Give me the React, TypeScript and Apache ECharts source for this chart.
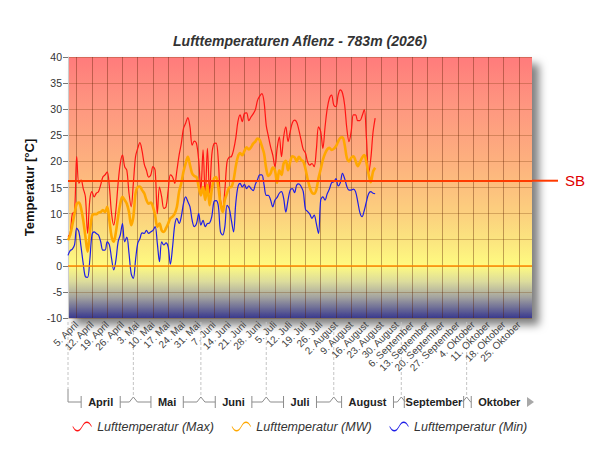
import React, { useEffect, useRef } from "react";
import * as echarts from "echarts";

const TITLE = "Lufttemperaturen Aflenz - 783m (2026)";
const Y_NAME = "Temperatur [°C]";
const MONTHS = ["April", "Mai", "Juni", "Juli", "August", "September", "Oktober"];
const MONTH_DAYS = [30, 31, 30, 31, 31, 30, 31];
const FIRST_SUNDAY_INDEX = 4; // 5. April
const SERIES_NAMES = ["Lufttemperatur (Max)", "Lufttemperatur (MW)", "Lufttemperatur (Min)"];
const SERIES_COLORS = ["#ff1414", "#ffa800", "#1e1ee6"];
const SB_VALUE = 16.3;
const SB_LABEL = "SB";

// daily values from 1. April
const maxTemp = [
  5.6, 6.2, 10.0, 10.3, 20.9, 15.8, 16.4, 14.8, 13.2, 6.2,
  12.6, 14.2, 13.2, 13.9, 14.2, 15.5, 17.0, 17.4, 18.0, 15.1,
  10.0, 7.8, 10.7, 15.8, 19.6, 21.2, 19.0, 18.3, 13.9, 11.3,
  15.8, 20.9, 22.5, 23.6, 22.0, 19.5, 18.3, 17.0, 17.4, 19.0,
  18.3, 10.0, 15.1, 13.2, 11.0, 11.3, 14.5, 17.4, 17.0, 15.8,
  18.3, 21.2, 23.4, 26.3, 27.3, 28.4, 26.6, 23.1, 23.9, 23.4,
  20.2, 14.5, 22.2, 13.2, 22.5, 13.9, 21.2, 23.4, 23.5, 20.2,
  12.6, 11.0, 14.5, 19.9, 20.8, 20.9, 22.2, 24.4, 27.6, 28.9,
  27.6, 29.2, 29.3, 27.8, 28.5, 29.1, 29.9, 31.7, 32.5, 33.0,
  31.4, 26.9, 24.8, 22.8, 21.2, 19.0, 22.5, 24.7, 20.9, 24.7,
  26.6, 23.8, 25.7, 27.4, 27.9, 27.5, 26.0, 24.1, 22.3, 21.6,
  19.9, 19.3, 19.6, 19.0, 22.2, 26.6, 25.7, 22.5, 26.6, 30.1,
  32.1, 32.7, 30.8, 30.5, 32.7, 33.7, 33.1, 30.8, 26.3, 23.8,
  25.7, 28.9, 28.9, 27.8, 27.8, 28.7, 29.9, 24.5, 17.8, 20.5,
  25.5, 28.3,
];
const meanTemp = [
  4.9, 5.9, 7.8, 10.0, 11.9, 12.1, 11.0, 8.7, 5.6, 2.7,
  6.2, 9.5, 9.9, 9.9, 10.2, 10.3, 10.7, 10.3, 11.3, 8.7,
  5.6, 4.6, 6.5, 9.4, 11.9, 13.2, 12.6, 11.9, 10.3, 7.8,
  9.4, 13.9, 15.1, 15.2, 14.5, 13.9, 12.6, 11.9, 12.1, 11.3,
  9.7, 7.5, 8.1, 6.8, 6.5, 7.2, 8.1, 9.1, 9.4, 10.0,
  11.3, 14.2, 15.8, 18.0, 19.6, 20.9, 19.3, 17.7, 17.2, 17.0,
  15.1, 13.5, 15.1, 12.6, 15.5, 11.6, 14.5, 16.7, 17.0, 15.1,
  11.9, 10.3, 12.6, 13.9, 15.0, 15.1, 16.4, 19.0, 20.9, 21.6,
  21.2, 22.0, 22.7, 22.3, 22.7, 23.4, 23.8, 24.4, 24.1, 22.9,
  21.5, 18.6, 17.2, 17.7, 18.8, 18.3, 15.9, 18.3, 17.4, 19.6,
  20.1, 18.3, 19.9, 21.0, 20.8, 20.0, 20.9, 20.3, 20.0, 18.6,
  16.6, 15.0, 14.0, 13.8, 14.6, 16.8, 18.5, 20.3, 21.5, 22.3,
  22.6, 22.2, 22.4, 22.9, 23.8, 24.5, 24.6, 23.2, 20.7, 20.0,
  20.7, 21.0, 20.1, 19.1, 19.8, 20.7, 21.2, 19.8, 17.5, 16.0,
  18.0, 18.8,
];
const minTemp = [
  2.0, 2.9, 3.2, 4.0, 7.2, 6.5, 3.6, 0.4, -2.1, -2.2,
  1.1, 5.9, 6.5, 6.2, 5.9, 4.6, 3.0, 3.0, 4.6, 4.0,
  1.4, -0.8, 1.1, 4.6, 5.9, 8.1, 4.6, 5.5, 2.4, -1.5,
  -2.4, 1.1, 4.3, 5.2, 6.3, 6.2, 6.8, 6.2, 6.5, 6.8,
  7.5, 4.3, 0.8, 4.6, 4.0, 4.4, 3.6, 0.3, 3.6, 7.8,
  9.1, 8.1, 9.4, 11.9, 13.2, 12.3, 11.3, 8.7, 7.5, 8.1,
  10.0, 7.8, 8.7, 7.5, 8.1, 8.2, 9.4, 12.3, 12.5, 11.5,
  6.5, 5.9, 7.5, 11.6, 11.0, 8.7, 6.5, 11.9, 15.1, 15.8,
  15.1, 15.6, 14.8, 15.3, 14.8, 14.4, 15.6, 16.5, 17.4, 17.4,
  15.5, 13.5, 13.5, 12.6, 11.3, 12.6, 13.1, 13.9, 14.2, 12.9,
  10.3, 12.6, 14.5, 14.8, 14.0, 15.5, 15.7, 15.2, 14.2, 10.8,
  10.4, 9.9, 9.1, 9.7, 8.1, 6.2, 12.6, 13.2, 12.6, 13.8,
  14.7, 15.9, 16.1, 16.7, 15.3, 15.9, 17.7, 16.7, 15.2, 14.5,
  14.5, 14.7, 14.2, 12.3, 10.2, 9.4, 10.6, 12.3, 13.8, 14.2,
  13.9, 13.8,
];

const categories: string[] = [];
const monthStart: number[] = [];
MONTHS.forEach((m, k) => {
  monthStart.push(categories.length);
  for (let d = 1; d <= MONTH_DAYS[k]; d++) categories.push(`${d}. ${m}`);
});

const FONT = "'Liberation Sans', Arial, sans-serif";
const WAVE =
  "path://M0,6 C3,12 7,12 10,6 C13,0 17,0 20,6 L20,7.6 C17,1.6 13,1.6 10,7.6 C7,13.6 3,13.6 0,7.6 Z";

const weekly = (i: number) => i >= FIRST_SUNDAY_INDEX && (i - FIRST_SUNDAY_INDEX) % 7 === 0;

function measure(text: string, font: string): number {
  const c = document.createElement("canvas").getContext("2d");
  if (!c) return text.length * 6.5;
  c.font = font;
  return c.measureText(text).width;
}

export default function App() {
  const ref = useRef<HTMLDivElement>(null);
  useEffect(() => {
    if (!ref.current) return;
    const chart = echarts.init(ref.current, undefined, { renderer: "svg" });
    const option: any = {
      animation: false,
      backgroundColor: "#ffffff",
      title: {
        text: TITLE,
        left: "center",
        top: 29,
        textStyle: { fontFamily: FONT, fontSize: 14, fontWeight: "bold", fontStyle: "italic", color: "#333" },
      },
      grid: {
        left: 68,
        right: 68,
        top: 57,
        bottom: 132,
        show: true,
        borderWidth: 0,
        backgroundColor: {
          type: "linear",
          x: 0,
          y: 0,
          x2: 0,
          y2: 1,
          colorStops: [
            { offset: 0, color: "#ff7b7b" },
            { offset: 0.2, color: "#fe9880" },
            { offset: 0.4, color: "#fdb07e" },
            { offset: 0.6, color: "#fcd07e" },
            { offset: 0.7, color: "#fbe47f" },
            { offset: 0.8, color: "#fffb80" },
            { offset: 0.86, color: "#dcdc9c" },
            { offset: 0.92, color: "#a4a4a0" },
            { offset: 1, color: "#3a3a8e" },
          ],
        },
        shadowBlur: 8,
        shadowColor: "rgba(0,0,0,0.5)",
        shadowOffsetX: 7,
        shadowOffsetY: 7,
      },
      legend: {
        top: 415,
        left: "center",
        icon: WAVE,
        itemWidth: 20,
        itemHeight: 10,
        itemGap: 18,
        itemStyle: { borderWidth: 0 },
        textStyle: { fontFamily: FONT, fontSize: 12.5, fontStyle: "italic", color: "#333" },
        data: SERIES_NAMES,
      },
      xAxis: {
        type: "category",
        data: categories,
        boundaryGap: false,
        axisLine: { show: false },
        axisTick: { show: false },
        axisLabel: {
          interval: (i: number) => weekly(i),
          rotate: 45,
          fontSize: 10,
          fontFamily: FONT,
          color: "#444",
          margin: 5,
        },
        splitLine: {
          show: true,
          interval: (i: number) => weekly(i),
          lineStyle: { color: "rgba(90,30,0,0.38)", width: 1 },
        },
      },
      yAxis: {
        type: "value",
        min: -10,
        max: 40,
        interval: 5,
        name: Y_NAME,
        nameLocation: "middle",
        nameGap: 26,
        nameTextStyle: { fontFamily: FONT, fontSize: 13, fontWeight: "bold", color: "#111" },
        axisLine: { show: true, lineStyle: { color: "#cccccc", width: 1 } },
        axisTick: { show: true, length: 5, lineStyle: { color: "#777" } },
        axisLabel: { fontSize: 10.5, fontFamily: FONT, color: "#333", margin: 6 },
        splitLine: { show: true, lineStyle: { color: "rgba(110,50,0,0.28)", width: 1 } },
      },
      series: [
        {
          name: SERIES_NAMES[0],
          type: "line",
          data: maxTemp,
          smooth: 0.35,
          symbol: "none",
          color: SERIES_COLORS[0],
          lineStyle: { color: SERIES_COLORS[0], width: 1.2 },
          markLine: {
            silent: true,
            symbol: ["none", "none"],
            label: { show: false },
            data: [
              { yAxis: 0, lineStyle: { color: "#ff8800", width: 1.5, type: "solid" } },
              { yAxis: SB_VALUE, lineStyle: { color: "#ff3a00", width: 2, type: "solid" } },
            ],
          },
        },
        {
          name: SERIES_NAMES[1],
          type: "line",
          data: meanTemp,
          smooth: 0.35,
          symbol: "none",
          color: SERIES_COLORS[1],
          lineStyle: { color: SERIES_COLORS[1], width: 2.6 },
        },
        {
          name: SERIES_NAMES[2],
          type: "line",
          data: minTemp,
          smooth: 0.35,
          symbol: "none",
          color: SERIES_COLORS[2],
          lineStyle: { color: SERIES_COLORS[2], width: 1.2 },
        },
      ],
    };
    chart.setOption(option);

    const xPix = (i: number) => chart.convertToPixel({ xAxisIndex: 0 }, i) as number;
    const yPix = (v: number) => chart.convertToPixel({ yAxisIndex: 0 }, v) as number;
    const ySB = yPix(SB_VALUE);
    const endX = xPix(categories.length - 1);
    const plotBottom = yPix(-10);

    const g: any[] = [];
    g.push({
      type: "line",
      silent: true,
      shape: { x1: endX, y1: ySB, x2: endX + 26, y2: ySB },
      style: { stroke: "#ff3a00", lineWidth: 2 },
    });
    g.push({
      type: "text",
      silent: true,
      x: endX + 33,
      y: ySB,
      style: {
        text: SB_LABEL,
        fill: "#e00000",
        fontSize: 15,
        fontFamily: FONT,
        align: "left",
        verticalAlign: "middle",
      },
    });

    const yLine = 402;
    const yApex = 397;
    const grey = "#8c8c8c";
    const monthFont = `bold 11px ${FONT}`;
    const bxs = monthStart.map((i) => xPix(i));
    bxs.forEach((b) => {
      g.push({
        type: "line",
        silent: true,
        shape: { x1: b, y1: plotBottom + 4, x2: b, y2: yApex - (b === bxs[0] ? 8 : 0) },
        style: { stroke: "#c4c4c4", lineWidth: 1, lineDash: [3, 2] },
      });
    });
    MONTHS.forEach((m, k) => {
      const s = bxs[k];
      const e = k < MONTHS.length - 1 ? bxs[k + 1] : endX;
      const c = (s + e) / 2;
      const tw = measure(m, monthFont);
      const lt = Math.max(s + 3, c - tw / 2 - 7);
      const rt = Math.min(e - 3, c + tw / 2 + 7);
      if (k === 0) {
        g.push({
          type: "polyline",
          silent: true,
          shape: { points: [[s, yApex - 8], [s, yLine], [lt, yLine]] },
          style: { stroke: grey, lineWidth: 1, fill: "none" },
        });
      } else {
        g.push({
          type: "polyline",
          silent: true,
          shape: { points: [[s - 4, yLine], [s, yApex], [s + 4, yLine]] },
          style: { stroke: grey, lineWidth: 1, fill: "none" },
        });
        g.push({
          type: "line",
          silent: true,
          shape: { x1: Math.min(s + 4, lt), y1: yLine, x2: lt, y2: yLine },
          style: { stroke: grey, lineWidth: 1 },
        });
      }
      g.push({
        type: "line",
        silent: true,
        shape: { x1: lt, y1: yLine - 6, x2: lt, y2: yLine + 6 },
        style: { stroke: grey, lineWidth: 1 },
      });
      if (k < MONTHS.length - 1) {
        g.push({
          type: "line",
          silent: true,
          shape: { x1: rt, y1: yLine - 6, x2: rt, y2: yLine + 6 },
          style: { stroke: grey, lineWidth: 1 },
        });
        g.push({
          type: "line",
          silent: true,
          shape: { x1: rt, y1: yLine, x2: Math.max(rt, e - 4), y2: yLine },
          style: { stroke: grey, lineWidth: 1 },
        });
      } else {
        g.push({
          type: "polygon",
          silent: true,
          shape: { points: [[e - 5, yLine - 5], [e + 2, yLine], [e - 5, yLine + 5]] },
          style: { fill: "#a8a8a8" },
        });
      }
      g.push({
        type: "text",
        silent: true,
        x: c,
        y: yLine,
        style: {
          text: m,
          fill: "#222",
          fontSize: 11,
          fontWeight: "bold",
          fontFamily: FONT,
          align: "center",
          verticalAlign: "middle",
        },
      });
    });
    chart.setOption({ graphic: g });

    return () => chart.dispose();
  }, []);
  return (
    <div
      ref={ref}
      style={{ position: "absolute", left: 0, top: 0, width: 600, height: 450 }}
    />
  );
}
